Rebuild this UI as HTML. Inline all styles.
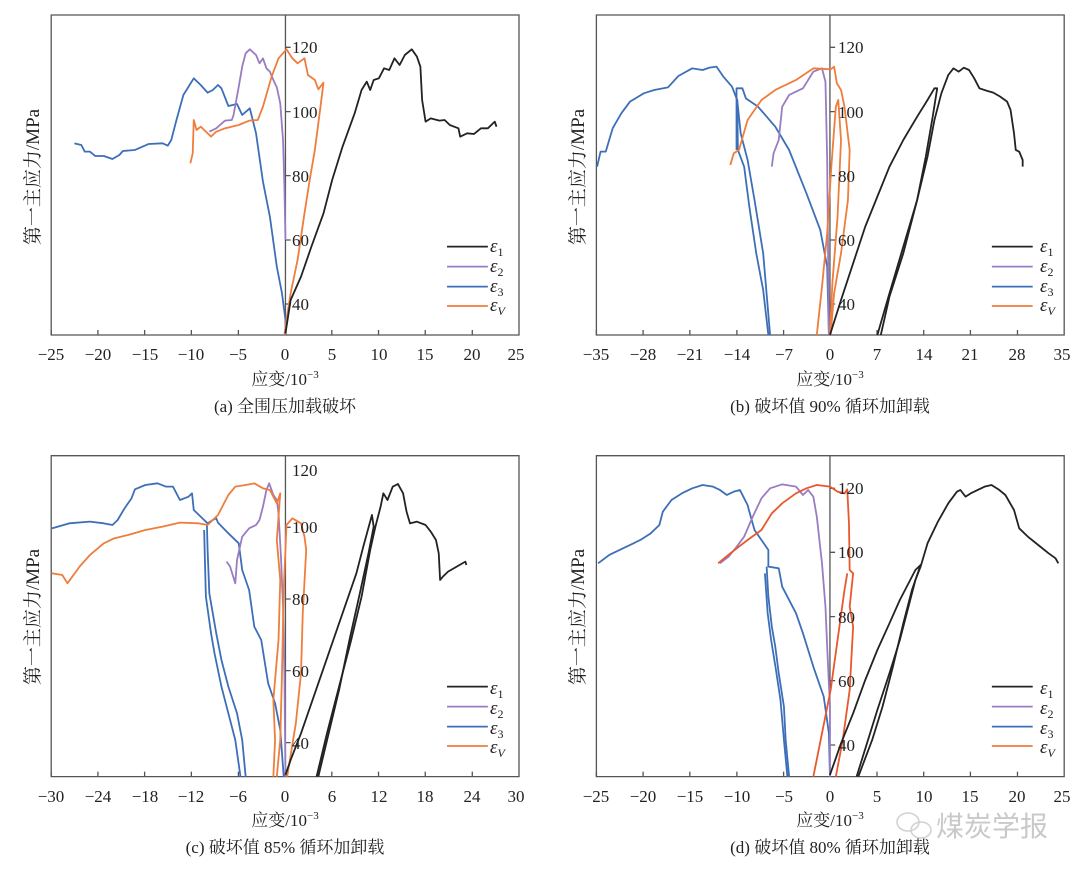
<!DOCTYPE html>
<html><head><meta charset="utf-8"><style>
body{margin:0;background:#fff;}
svg{display:block;font-family:"Liberation Serif","Noto Serif CJK SC",serif;}
.ln{fill:none;stroke-width:1.8;vector-effect:non-scaling-stroke;stroke-linejoin:round}
.bx{fill:none;stroke:#555;stroke-width:1.3;vector-effect:non-scaling-stroke}
.k{stroke:#222}.p{stroke:#9a7cc2}.b{stroke:#3d6fb8}.o{stroke:#ef7d3c}.r{stroke:#e8582c}
text{fill:#222;font-size:17px}
.cap{font-size:17px;text-anchor:middle}
.tl{text-anchor:middle}
</style></head><body>
<svg width="1080" height="872" viewBox="0 0 1080 872">
<defs>
<g id="legend">
<line x1="1292" y1="740" x2="1410" y2="740" class="ln k"/>
<line x1="1292" y1="800" x2="1410" y2="800" class="ln p"/>
<line x1="1292" y1="860" x2="1410" y2="860" class="ln b"/>
<line x1="1292" y1="918" x2="1410" y2="918" class="ln o"/>
</g>
</defs>

<g transform="translate(0,0) scale(0.346,0.3333)">
<rect x="148" y="45" width="1352" height="960" class="bx"/>
<line x1="825" y1="45" x2="825" y2="1005" class="bx"/>
<path class="bx" d="M148 1005v-15M283 1005v-15M418 1005v-15M553 1005v-15M689 1005v-15M824 1005v-15M959 1005v-15M1094 1005v-15M1229 1005v-15M1365 1005v-15M825 142h15M825 335h15M825 527h15M825 720h15M825 912h15"/>
<polyline class="ln b" points="215,430 235,435 245,455 260,455 275,468 300,468 325,477 345,465 355,453 390,450 430,432 470,430 485,437 495,420 510,360 530,285 560,235 580,255 600,278 615,270 630,255 640,265 660,318 685,312 700,345 722,325 740,400 760,545 780,650 800,800 815,880 825,960 826,1005"/>
<polyline class="ln p" points="605,395 625,385 650,362 670,360 675,345 690,260 700,200 710,160 722,148 740,165 750,190 760,175 770,205 780,215 790,240 800,262 810,310 818,420 822,560 825,720"/>
<polyline class="ln o" points="550,490 557,460 560,360 568,390 580,380 610,410 625,395 650,385 690,375 720,362 745,360 760,320 785,230 805,175 828,148 845,175 860,190 880,175 890,225 910,240 920,268 935,248 925,330 910,450 895,540 880,640 860,780 840,880 828,960 822,1005"/>
<polyline class="ln k" points="825,1000 840,900 870,830 900,740 935,640 960,540 990,440 1025,340 1045,270 1060,245 1070,270 1080,240 1095,235 1110,205 1125,210 1140,175 1155,195 1170,165 1190,148 1205,170 1215,200 1220,300 1230,365 1245,355 1270,362 1285,360 1300,375 1325,385 1330,410 1350,400 1370,402 1390,385 1410,385 1430,365 1435,380"/>
<use href="#legend"/>
</g>

<g transform="translate(540,0) scale(0.346,0.3333)">
<rect x="163" y="45" width="1352" height="960" class="bx"/>
<line x1="838" y1="45" x2="838" y2="1005" class="bx"/>
<path class="bx" d="M163 1005v-15M298 1005v-15M433 1005v-15M569 1005v-15M704 1005v-15M839 1005v-15M974 1005v-15M1109 1005v-15M1244 1005v-15M1380 1005v-15M838 142h15M838 335h15M838 527h15M838 720h15M838 912h15"/>
<polyline class="ln b" points="165,500 175,455 190,455 210,385 235,340 260,305 300,280 330,270 370,262 400,228 440,205 470,210 490,203 510,200 530,230 555,260 570,300 580,400 600,480 620,600 645,760 665,1005"/>
<polyline class="ln b" points="568,450 568,265 585,265 595,295 630,320 680,380 720,450 770,580 810,690 830,800 835,1005"/>
<polyline class="ln b" points="570,300 572,450 590,500 605,620 625,760 645,870 660,1005"/>
<polyline class="ln p" points="670,500 675,460 690,420 700,320 720,285 760,265 790,215 815,205 825,245 830,480 832,700 835,1005"/>
<polyline class="ln o" points="550,495 560,460 575,450 600,360 640,300 680,270 740,240 790,205 840,208 850,200 858,250 870,270 880,320 895,450 890,600 870,760 850,880 840,1005"/>
<polyline class="ln o" points="800,1005 815,860 830,700 842,500 855,320 862,300 870,420 860,650 845,850 838,1005"/>
<polyline class="ln k" points="838,1005 870,900 905,790 940,680 975,590 1010,500 1050,420 1090,350 1120,300 1140,265 1148,265 1135,350 1115,470 1090,600 1050,760 1010,890 985,1005"/>
<polyline class="ln k" points="975,1005 1010,880 1050,740 1090,600 1120,470 1140,360 1160,280 1180,225 1195,205 1210,215 1225,203 1240,210 1255,235 1270,265 1290,272 1310,278 1330,290 1350,305 1360,330 1370,400 1375,450 1385,455 1395,480 1395,500"/>
<g transform="translate(14,0)"><use href="#legend"/></g>
</g>

<g transform="translate(0,440) scale(0.346,0.3333)">
<rect x="148" y="47" width="1352" height="963" class="bx"/>
<line x1="825" y1="47" x2="825" y2="1010" class="bx"/>
<path class="bx" d="M148 1010v-15M283 1010v-15M418 1010v-15M553 1010v-15M689 1010v-15M824 1010v-15M959 1010v-15M1094 1010v-15M1229 1010v-15M1365 1010v-15M825 262h15M825 477h15M825 692h15M825 908h15"/>
<polyline class="ln b" points="150,265 200,250 260,245 300,250 325,255 340,240 360,205 380,175 390,148 420,135 455,130 480,140 500,140 520,180 545,170 555,160 560,210 590,240 600,250 615,240 625,235 630,248 660,280 690,310 700,390 720,450 735,560 755,600 775,730 795,790 810,870 820,1010"/>
<polyline class="ln b" points="598,255 600,330 605,460 625,580 640,660 660,740 685,820 700,900 710,1010"/>
<polyline class="ln b" points="590,270 595,470 610,580 620,640 640,740 660,820 680,900 695,1010"/>
<polyline class="ln p" points="655,365 665,380 680,430 685,360 700,290 720,265 740,255 750,240 760,200 770,150 778,130 790,165 800,180 805,220 812,350 818,500 822,700 825,1010"/>
<polyline class="ln o" points="150,400 180,405 195,430 230,380 260,345 300,310 330,295 370,285 420,270 470,260 520,248 575,250 600,255 630,225 660,165 680,140 710,135 735,130 760,145 780,150 800,190 810,160 800,300 810,420 805,600 790,780 795,900 790,1010"/>
<polyline class="ln o" points="800,1010 810,900 815,700 820,450 828,255 845,235 870,250 880,290 885,330 875,520 870,700 855,850 830,1010"/>
<polyline class="ln k" points="825,1005 840,960 870,880 910,760 950,640 990,520 1030,400 1050,320 1075,225 1080,260 1065,340 1040,460 1010,600 980,750 950,880 920,1010"/>
<polyline class="ln k" points="915,1010 945,880 980,740 1015,600 1045,470 1070,330 1085,260 1100,200 1108,160 1120,180 1135,140 1150,132 1165,160 1175,215 1185,250 1205,245 1230,255 1245,275 1260,300 1268,340 1272,420 1280,410 1295,395 1320,380 1345,365 1348,375"/>
<use href="#legend"/>
</g>

<g transform="translate(540,440) scale(0.346,0.3333)">
<rect x="163" y="47" width="1352" height="963" class="bx"/>
<line x1="838" y1="47" x2="838" y2="1010" class="bx"/>
<path class="bx" d="M163 1010v-15M298 1010v-15M433 1010v-15M569 1010v-15M704 1010v-15M839 1010v-15M974 1010v-15M1109 1010v-15M1244 1010v-15M1380 1010v-15M838 145h15M838 337h15M838 530h15M838 722h15M838 915h15"/>
<polyline class="ln b" points="168,370 200,345 240,325 290,300 320,280 345,255 355,215 380,180 410,160 440,145 470,135 500,140 520,150 540,165 560,155 578,150 590,175 600,195 605,215 620,270 640,300 660,330 660,380 690,385 700,440 740,520 760,580 790,680 820,770 835,880 838,1010"/>
<polyline class="ln b" points="655,380 660,470 670,560 680,620 690,700 705,800 710,900 720,1010"/>
<polyline class="ln b" points="650,400 658,520 668,600 682,690 695,780 705,900 715,1010"/>
<polyline class="ln p" points="520,370 545,350 565,325 590,290 615,230 640,175 665,145 700,133 740,140 760,165 775,150 790,170 800,230 815,370 825,500 830,620 838,800 838,1010"/>
<polyline class="ln r" points="515,370 550,340 600,300 640,270 670,220 700,190 740,160 770,145 800,135 838,140 860,155 880,160 888,148 893,250 895,390 905,400 895,500 905,560 895,750 875,900 855,1010"/>
<polyline class="ln r" points="790,1010 815,880 840,750 860,600 880,450 888,400"/>
<polyline class="ln k" points="838,1005 870,910 905,820 940,720 975,630 1010,550 1040,480 1070,420 1085,390 1100,375 1075,450 1050,550 1020,680 990,800 960,900 920,1010"/>
<polyline class="ln k" points="915,1010 945,910 975,810 1010,700 1040,600 1065,500 1085,420 1100,380 1120,310 1150,245 1180,190 1205,155 1215,150 1230,170 1245,160 1265,150 1285,140 1305,135 1325,148 1345,165 1370,210 1385,265 1410,290 1440,315 1470,340 1490,355 1498,370"/>
<g transform="translate(14,0)"><use href="#legend"/></g>
</g>

<text x="51" y="360" class="tl">−25</text><text x="98" y="360" class="tl">−20</text><text x="145" y="360" class="tl">−15</text><text x="191" y="360" class="tl">−10</text><text x="238" y="360" class="tl">−5</text><text x="285" y="360" class="tl">0</text><text x="332" y="360" class="tl">5</text><text x="379" y="360" class="tl">10</text><text x="425" y="360" class="tl">15</text><text x="472" y="360" class="tl">20</text><text x="516" y="360" class="tl">25</text>
<text x="292" y="53">120</text><text x="292" y="118">100</text><text x="292" y="182">80</text><text x="292" y="246">60</text><text x="292" y="310">40</text>
<text x="285" y="385" class="cap">应变/10<tspan font-size="11" dy="-7">−3</tspan></text>
<text x="285" y="412" class="cap">(a) 全围压加载破坏</text>
<text transform="translate(39,177) rotate(-90)" class="cap" style="font-size:19px">第一主应力/MPa</text>

<text x="596" y="360" class="tl">−35</text><text x="643" y="360" class="tl">−28</text><text x="690" y="360" class="tl">−21</text><text x="737" y="360" class="tl">−14</text><text x="784" y="360" class="tl">−7</text><text x="830" y="360" class="tl">0</text><text x="877" y="360" class="tl">7</text><text x="924" y="360" class="tl">14</text><text x="970" y="360" class="tl">21</text><text x="1017" y="360" class="tl">28</text><text x="1062" y="360" class="tl">35</text>
<text x="838" y="53">120</text><text x="838" y="118">100</text><text x="838" y="182">80</text><text x="838" y="246">60</text><text x="838" y="310">40</text>
<text x="830" y="385" class="cap">应变/10<tspan font-size="11" dy="-7">−3</tspan></text>
<text x="830" y="412" class="cap">(b) 破坏值 90% 循环加卸载</text>
<text transform="translate(584,177) rotate(-90)" class="cap" style="font-size:19px">第一主应力/MPa</text>

<text x="51" y="802" class="tl">−30</text><text x="98" y="802" class="tl">−24</text><text x="145" y="802" class="tl">−18</text><text x="191" y="802" class="tl">−12</text><text x="238" y="802" class="tl">−6</text><text x="285" y="802" class="tl">0</text><text x="332" y="802" class="tl">6</text><text x="379" y="802" class="tl">12</text><text x="425" y="802" class="tl">18</text><text x="472" y="802" class="tl">24</text><text x="516" y="802" class="tl">30</text>
<text x="292" y="476">120</text><text x="292" y="533">100</text><text x="292" y="605">80</text><text x="292" y="677">60</text><text x="292" y="749">40</text>
<text x="285" y="826" class="cap">应变/10<tspan font-size="11" dy="-7">−3</tspan></text>
<text x="285" y="853" class="cap">(c) 破坏值 85% 循环加卸载</text>
<text transform="translate(39,617) rotate(-90)" class="cap" style="font-size:19px">第一主应力/MPa</text>

<text x="596" y="802" class="tl">−25</text><text x="643" y="802" class="tl">−20</text><text x="690" y="802" class="tl">−15</text><text x="737" y="802" class="tl">−10</text><text x="784" y="802" class="tl">−5</text><text x="830" y="802" class="tl">0</text><text x="877" y="802" class="tl">5</text><text x="924" y="802" class="tl">10</text><text x="970" y="802" class="tl">15</text><text x="1017" y="802" class="tl">20</text><text x="1062" y="802" class="tl">25</text>
<text x="838" y="494">120</text><text x="838" y="558">100</text><text x="838" y="623">80</text><text x="838" y="687">60</text><text x="838" y="751">40</text>
<text x="830" y="826" class="cap">应变/10<tspan font-size="11" dy="-7">−3</tspan></text>
<text x="830" y="853" class="cap">(d) 破坏值 80% 循环加卸载</text>
<text transform="translate(584,617) rotate(-90)" class="cap" style="font-size:19px">第一主应力/MPa</text>

<g font-style="italic" style="font-size:19px">
<text x="490" y="252" style="font-size:19px">ε<tspan font-size="12" dy="4" font-style="normal">1</tspan></text>
<text x="490" y="272" style="font-size:19px">ε<tspan font-size="12" dy="4" font-style="normal">2</tspan></text>
<text x="490" y="292" style="font-size:19px">ε<tspan font-size="12" dy="4" font-style="normal">3</tspan></text>
<text x="490" y="311" style="font-size:19px">ε<tspan font-size="12" dy="4">V</tspan></text>
<text x="1040" y="252" style="font-size:19px">ε<tspan font-size="12" dy="4" font-style="normal">1</tspan></text>
<text x="1040" y="272" style="font-size:19px">ε<tspan font-size="12" dy="4" font-style="normal">2</tspan></text>
<text x="1040" y="292" style="font-size:19px">ε<tspan font-size="12" dy="4" font-style="normal">3</tspan></text>
<text x="1040" y="311" style="font-size:19px">ε<tspan font-size="12" dy="4">V</tspan></text>
<text x="490" y="694" style="font-size:19px">ε<tspan font-size="12" dy="4" font-style="normal">1</tspan></text>
<text x="490" y="714" style="font-size:19px">ε<tspan font-size="12" dy="4" font-style="normal">2</tspan></text>
<text x="490" y="734" style="font-size:19px">ε<tspan font-size="12" dy="4" font-style="normal">3</tspan></text>
<text x="490" y="753" style="font-size:19px">ε<tspan font-size="12" dy="4">V</tspan></text>
<text x="1040" y="694" style="font-size:19px">ε<tspan font-size="12" dy="4" font-style="normal">1</tspan></text>
<text x="1040" y="714" style="font-size:19px">ε<tspan font-size="12" dy="4" font-style="normal">2</tspan></text>
<text x="1040" y="734" style="font-size:19px">ε<tspan font-size="12" dy="4" font-style="normal">3</tspan></text>
<text x="1040" y="753" style="font-size:19px">ε<tspan font-size="12" dy="4">V</tspan></text>
</g>

<g opacity="0.45">
<ellipse cx="908" cy="822" rx="11" ry="9" fill="none" stroke="#999" stroke-width="1.5"/>
<ellipse cx="921" cy="830" rx="10" ry="8" fill="none" stroke="#999" stroke-width="1.5"/>
<text x="936" y="836" style="font-size:28px;fill:#888;font-family:'Noto Sans CJK SC',sans-serif">煤炭学报</text>
</g>
</svg>
</body></html>
